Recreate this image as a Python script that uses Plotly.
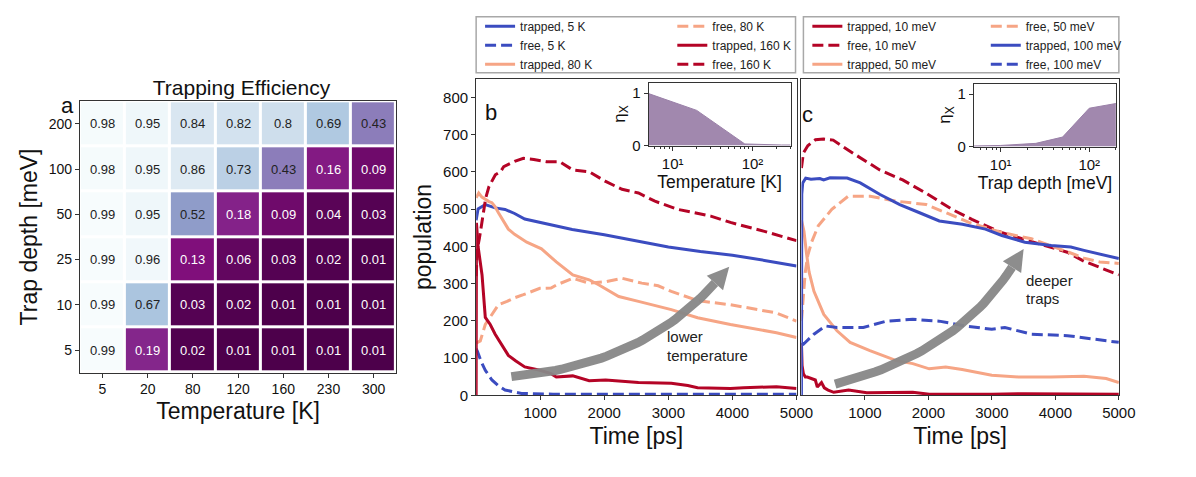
import plotly.graph_objects as go

W, H = 1196, 477

# ---------------- data ----------------
temps = ["5", "20", "80", "120", "160", "230", "300"]
temps_num = [5, 20, 80, 120, 160, 230, 300]
depths = ["5", "10", "25", "50", "100", "200"]
depths_num = [5, 10, 25, 50, 100, 200]
# rows: trap depth 5 -> 200 (bottom to top), columns: temperature
eff_5 = [0.99, 0.19, 0.02, 0.01, 0.01, 0.01, 0.01]
eff_10 = [0.99, 0.67, 0.03, 0.02, 0.01, 0.01, 0.01]
eff_25 = [0.99, 0.96, 0.13, 0.06, 0.03, 0.02, 0.01]
eff_50 = [0.99, 0.95, 0.52, 0.18, 0.09, 0.04, 0.03]
eff_100 = [0.98, 0.95, 0.86, 0.73, 0.43, 0.16, 0.09]
eff_200 = [0.98, 0.95, 0.84, 0.82, 0.80, 0.69, 0.43]
eff = [eff_5, eff_10, eff_25, eff_50, eff_100, eff_200]

# inset data
inset_b_y = eff_10                      # vs temperature at 10 meV
inset_c_y = [0.01, 0.02, 0.06, 0.18, 0.73, 0.82]   # vs depth at 120 K
inset_ticks = [10, 100]
inset_ticktext = ["10¹", "10²"]

# panel b (temperature series)
t_tr5 = [0, 30, 143, 297, 451, 600, 759, 1000, 1169, 1500, 2000, 2500, 3000, 3500, 4000, 4500, 5000]
v_tr5 = [470, 500, 512, 503, 499, 488, 473, 464, 459, 445, 431, 415, 398, 386, 376, 362, 347]
t_fr5 = [0, 20, 80, 143, 246, 350, 451, 600, 708, 900, 1200, 2000, 3000, 4000, 5000]
v_fr5 = [125, 118, 90, 67, 41, 25, 14, 8, 5, 4, 3, 3, 3, 3, 3]
t_tr80 = [0, 40, 90, 143, 200, 246, 300, 348, 420, 503, 600, 790, 1020, 1251, 1508, 1764, 1918, 2226, 2533, 2841, 3046, 3456, 3969, 4687, 5000]
v_tr80 = [530, 543, 532, 526, 520, 517, 505, 490, 468, 446, 432, 411, 393, 358, 323, 310, 296, 265, 252, 239, 230, 208, 190, 168, 155]
t_fr80 = [0, 65, 143, 246, 348, 482, 605, 738, 995, 1169, 1251, 1508, 1764, 2021, 2277, 2585, 2841, 3046, 3456, 3969, 4687, 5000]
v_fr80 = [140, 146, 190, 217, 243, 252, 262, 270, 287, 288, 296, 314, 301, 305, 314, 301, 294, 279, 254, 243, 221, 199]
t_tr160 = [0, 5, 30, 92, 143, 220, 297, 400, 503, 620, 759, 995, 1169, 1251, 1508, 1764, 2021, 2533, 3046, 3303, 3456, 3969, 4174, 4687, 5000]
v_tr160 = [0, 463, 400, 323, 209, 190, 164, 137, 107, 92, 76, 67, 58, 49, 52, 39, 41, 34, 32, 26, 20, 18, 20, 23, 18]
t_fr160 = [0, 20, 50, 100, 150, 200, 300, 380, 431, 600, 738, 900, 1097, 1302, 1508, 1764, 2021, 2277, 2533, 2790, 3149, 3662, 3969, 4500, 5000]
v_fr160 = [320, 394, 420, 480, 530, 560, 592, 600, 614, 628, 636, 633, 627, 627, 605, 600, 574, 553, 543, 521, 499, 481, 464, 440, 415]

# panel c (trap depth series)
t_tr10 = [0, 10, 31, 62, 93, 197, 219, 250, 316, 360, 420, 509, 743, 1029, 1495, 1754, 2013, 2500, 3000, 3500, 4000, 4500, 5000]
v_tr10 = [140, 80, 58, 49, 49, 41, 41, 22, 34, 20, 14, 8, 14, 7, 7, 8, 3, 4, 3, 4, 3, 4, 3]
t_fr10 = [0, 30, 100, 220, 350, 500, 820, 1233, 1595, 1958, 2373, 2685, 3150, 3668, 4187, 4450, 5000]
v_fr10 = [610, 650, 670, 686, 688, 685, 649, 605, 578, 543, 499, 472, 437, 411, 384, 360, 323]
t_tr50 = [0, 40, 80, 120, 197, 352, 560, 767, 1078, 1495, 1754, 2013, 2272, 2531, 2998, 3413, 3931, 4450, 4800, 5000]
v_tr50 = [470, 440, 380, 331, 279, 217, 173, 142, 120, 93, 85, 71, 76, 69, 54, 49, 49, 51, 45, 34]
t_fr50 = [0, 30, 60, 100, 160, 265, 478, 734, 1083, 1497, 1965, 2276, 2639, 3157, 3624, 4194, 4450, 4700, 5000]
v_fr50 = [200, 260, 330, 376, 411, 455, 499, 534, 534, 521, 512, 490, 464, 437, 420, 385, 368, 358, 354]
t_tr100 = [0, 5, 20, 67, 150, 290, 350, 450, 720, 927, 1238, 1549, 1861, 2172, 2535, 2898, 3157, 3520, 3935, 4243, 4450, 5000]
v_tr100 = [0, 540, 570, 583, 580, 582, 578, 584, 583, 570, 539, 512, 490, 468, 459, 446, 429, 411, 402, 398, 389, 367]
t_fr100 = [0, 31, 197, 378, 560, 975, 1338, 1754, 2168, 2583, 2998, 3205, 3620, 4190, 5000]
v_fr100 = [140, 137, 164, 186, 182, 182, 199, 204, 199, 186, 177, 182, 164, 160, 142]

# arrow endpoints (data coords)
arrow_b = ((550, 50), (3950, 345))
arrow_c = ((530, 30), (3500, 393))

# ---------------- styles ----------------
BLUE = "#3b4cc0"
SALMON = "#f6a585"
RED = "#b40426"
PURPLE_FILL = "#a188ae"
ARROW = "rgba(135,135,135,0.95)"
FONT = "Liberation Sans"
LW = 3
DASH = "11px,5px"

# axes boxes in pixels: left, right, top, bottom
HM = (81, 402, 103, 379)
BX = (483, 808, 80, 402)
CX = (813, 1135, 80, 402)
IB = (658, 802, 84, 148)
IC = (988, 1132, 85, 149)

XR = [0, 5000]
YR = [0, 850]


def xdom(box):
    return [box[0] / W, box[1] / W]


def ydom(box):
    return [1 - box[3] / H, 1 - box[2] / H]


fig = go.Figure()

# ---------------- heatmap ----------------
fig.add_trace(go.Heatmap(
    z=eff, x=temps, y=depths, colorscale="BuPu", reversescale=True,
    xgap=3, ygap=3, showscale=False, xaxis="x", yaxis="y", hoverinfo="z"))

annotations = []
for i, d in enumerate(depths):
    for j, tk in enumerate(temps):
        v = eff[i][j]
        annotations.append(dict(
            x=j, y=i, xref="x", yref="y", text=f"{v:g}", showarrow=False,
            font=dict(size=13, color="#222222" if v > 0.3 else "white", family=FONT)))

# ---------------- panel b ----------------
def line(t, v, name, color, dash, xa, ya, leg):
    return go.Scatter(x=t, y=v, mode="lines", name=name, xaxis=xa, yaxis=ya, legend=leg,
                      line=dict(color=color, width=LW, dash="solid" if dash is None else dash))


fig.add_trace(line(t_tr5, v_tr5, "trapped, 5 K", BLUE, None, "x2", "y2", "legend"))
fig.add_trace(line(t_fr5, v_fr5, "free, 5 K", BLUE, DASH, "x2", "y2", "legend"))
fig.add_trace(line(t_tr80, v_tr80, "trapped, 80 K", SALMON, None, "x2", "y2", "legend"))
fig.add_trace(line(t_fr80, v_fr80, "free, 80 K", SALMON, DASH, "x2", "y2", "legend2"))
fig.add_trace(line(t_tr160, v_tr160, "trapped, 160 K", RED, None, "x2", "y2", "legend2"))
fig.add_trace(line(t_fr160, v_fr160, "free, 160 K", RED, DASH, "x2", "y2", "legend2"))

# ---------------- panel c ----------------
fig.add_trace(line(t_tr10, v_tr10, "trapped, 10 meV", RED, None, "x3", "y3", "legend3"))
fig.add_trace(line(t_fr10, v_fr10, "free, 10 meV", RED, DASH, "x3", "y3", "legend3"))
fig.add_trace(line(t_tr50, v_tr50, "trapped, 50 meV", SALMON, None, "x3", "y3", "legend3"))
fig.add_trace(line(t_fr50, v_fr50, "free, 50 meV", SALMON, DASH, "x3", "y3", "legend4"))
fig.add_trace(line(t_tr100, v_tr100, "trapped, 100 meV", BLUE, None, "x3", "y3", "legend4"))
fig.add_trace(line(t_fr100, v_fr100, "free, 100 meV", BLUE, DASH, "x3", "y3", "legend4"))


# ---------------- curved arrows ----------------
def to_px(t, v, box):
    l, r, top, bot = box
    return (l + (t - XR[0]) / (XR[1] - XR[0]) * (r - l),
            bot - (v - YR[0]) / (YR[1] - YR[0]) * (bot - top))


def from_px(x, y, box):
    l, r, top, bot = box
    return (XR[0] + (x - l) / (r - l) * (XR[1] - XR[0]),
            YR[0] + (bot - y) / (bot - top) * (YR[1] - YR[0]))


def curved_arrow(ends, box, xa, ya, rad=0.2, head_len=22, head_w=11, n=40):
    (t0, v0), (t1, v1) = ends
    x0, y0 = to_px(t0, v0, box)
    x1, y1 = to_px(t1, v1, box)
    dx, dy = x1 - x0, y1 - y0
    cx, cy = (x0 + x1) / 2 - rad * dy, (y0 + y1) / 2 + rad * dx
    ux, uy = x1 - cx, y1 - cy
    norm = (ux ** 2 + uy ** 2) ** 0.5
    ux, uy = ux / norm, uy / norm
    bx, by = x1 - ux * head_len, y1 - uy * head_len
    xs, ys = [], []
    for k in range(n + 1):
        s = k / n
        px = (1 - s) ** 2 * x0 + 2 * (1 - s) * s * cx + s ** 2 * bx
        py = (1 - s) ** 2 * y0 + 2 * (1 - s) * s * cy + s ** 2 * by
        tt, vv = from_px(px, py, box)
        xs.append(tt)
        ys.append(vv)
    nx, ny = -uy, ux
    hx = [x1, bx + nx * head_w, bx - nx * head_w, x1]
    hy = [y1, by + ny * head_w, by - ny * head_w, y1]
    hd = [from_px(a, b, box) for a, b in zip(hx, hy)]
    body = go.Scatter(x=xs, y=ys, mode="lines", xaxis=xa, yaxis=ya, showlegend=False,
                      hoverinfo="skip", line=dict(color=ARROW, width=9))
    head = go.Scatter(x=[p[0] for p in hd], y=[p[1] for p in hd], mode="lines", fill="toself",
                      fillcolor=ARROW, xaxis=xa, yaxis=ya, showlegend=False, hoverinfo="skip",
                      line=dict(width=0, color=ARROW))
    return [body, head]


for tr in curved_arrow(arrow_b, BX, "x2", "y2"):
    fig.add_trace(tr)
for tr in curved_arrow(arrow_c, CX, "x3", "y3"):
    fig.add_trace(tr)

# ---------------- insets ----------------
fig.add_trace(go.Scatter(x=temps_num, y=inset_b_y, mode="lines", fill="tozeroy",
                         fillcolor=PURPLE_FILL, line=dict(color="#9a80a8", width=1),
                         xaxis="x4", yaxis="y4", showlegend=False))
fig.add_trace(go.Scatter(x=depths_num, y=inset_c_y, mode="lines", fill="tozeroy",
                         fillcolor=PURPLE_FILL, line=dict(color="#9a80a8", width=1),
                         xaxis="x5", yaxis="y5", showlegend=False))

TXT = dict(size=15, color="#222", family=FONT)
annotations += [
    dict(x=2950, y=159, xref="x2", yref="y2", text="lower", showarrow=False, xanchor="left", font=TXT),
    dict(x=2950, y=108, xref="x2", yref="y2", text="temperature", showarrow=False, xanchor="left", font=TXT),
    dict(x=3500, y=307, xref="x3", yref="y3", text="deeper", showarrow=False, xanchor="left", font=TXT),
    dict(x=3500, y=259, xref="x3", yref="y3", text="traps", showarrow=False, xanchor="left", font=TXT),
    dict(x=60 / W, y=1 - 93 / H, xref="paper", yref="paper", text="a", showarrow=False,
         font=dict(size=22, color="#111", family=FONT)),
    dict(x=498 / W, y=1 - 100 / H, xref="paper", yref="paper", text="b", showarrow=False,
         font=dict(size=22, color="#111", family=FONT)),
    dict(x=827 / W, y=1 - 102 / H, xref="paper", yref="paper", text="c", showarrow=False,
         font=dict(size=22, color="#111", family=FONT)),
]

AX = dict(showline=True, mirror=True, linecolor="#333", linewidth=1, ticks="outside",
          ticklen=4, tickcolor="#333", showgrid=False, zeroline=False)

minor_b = [6, 7, 8, 9, 20, 30, 40, 50, 60, 70, 80, 90, 200, 300]
minor_c = [6, 7, 8, 9, 20, 30, 40, 50, 60, 70, 80, 90, 200]

fig.update_layout(
    width=W, height=H, margin=dict(l=0, r=0, t=0, b=0),
    plot_bgcolor="white", paper_bgcolor="white", hovermode=False,
    font=dict(family=FONT, color="#111"),
    title=dict(text="Trapping Efficiency", x=(HM[0] + HM[1]) / 2 / W, xanchor="center",
               y=1 - 88 / H, yanchor="middle", font=dict(size=21, family=FONT, color="#111")),
    xaxis=dict(AX, domain=xdom(HM), type="category", range=[-0.5, len(temps) - 0.5],
               tickfont=dict(size=14), anchor="y",
               title=dict(text="Temperature [K]", font=dict(size=23), standoff=6)),
    yaxis=dict(AX, domain=ydom(HM), type="category", range=[-0.5, len(depths) - 0.5],
               tickfont=dict(size=14), anchor="x",
               title=dict(text="Trap depth [meV]", font=dict(size=23), standoff=4)),
    xaxis2=dict(AX, domain=xdom(BX), range=XR, anchor="y2", tickvals=[1000, 2000, 3000, 4000, 5000],
                tickfont=dict(size=15), title=dict(text="Time [ps]", font=dict(size=23), standoff=7)),
    yaxis2=dict(AX, domain=ydom(BX), range=YR, anchor="x2",
                tickvals=[0, 100, 200, 300, 400, 500, 600, 700, 800], tickfont=dict(size=15),
                title=dict(text="population", font=dict(size=23), standoff=5)),
    xaxis3=dict(AX, domain=xdom(CX), range=XR, anchor="y3", tickvals=[1000, 2000, 3000, 4000, 5000],
                tickfont=dict(size=15), title=dict(text="Time [ps]", font=dict(size=23), standoff=7)),
    yaxis3=dict(AX, domain=ydom(CX), range=YR, anchor="x3", showticklabels=False, ticks=""),
    xaxis4=dict(AX, domain=xdom(IB), type="log", range=[0.699, 2.477], anchor="y4",
                tickvals=inset_ticks, ticktext=inset_ticktext,
                tickfont=dict(size=15), ticklen=4,
                minor=dict(ticks="outside", ticklen=2, tickcolor="#333", tickvals=minor_b),
                title=dict(text="Temperature [K]", font=dict(size=17.5), standoff=4)),
    yaxis4=dict(AX, domain=ydom(IB), range=[0, 1.2], anchor="x4", tickvals=[0, 1],
                tickfont=dict(size=15),
                title=dict(text="η<sub>X</sub>", font=dict(size=17), standoff=2)),
    xaxis5=dict(AX, domain=xdom(IC), type="log", range=[0.699, 2.301], anchor="y5",
                tickvals=inset_ticks, ticktext=inset_ticktext,
                tickfont=dict(size=15), ticklen=4,
                minor=dict(ticks="outside", ticklen=2, tickcolor="#333", tickvals=minor_c),
                title=dict(text="Trap depth [meV]", font=dict(size=17.5), standoff=4)),
    yaxis5=dict(AX, domain=ydom(IC), range=[0, 1.2], anchor="x5", tickvals=[0, 1],
                tickfont=dict(size=15),
                title=dict(text="η<sub>X</sub>", font=dict(size=17), standoff=2)),
    annotations=annotations,
)

LEG = dict(orientation="v", xanchor="left", yanchor="middle", bgcolor="rgba(0,0,0,0)",
           borderwidth=0, font=dict(size=12, family=FONT, color="#222"), tracegroupgap=0)
ymid = 1 - 46 / H
fig.update_layout(
    legend=dict(LEG, x=487 / W, y=ymid),
    legend2=dict(LEG, x=682 / W, y=ymid),
    legend3=dict(LEG, x=819 / W, y=ymid),
    legend4=dict(LEG, x=1000 / W, y=ymid),
)

# legend frames
for (l, r) in [(483, 807), (815, 1135)]:
    fig.add_shape(type="rect", xref="paper", yref="paper", x0=l / W, x1=r / W,
                  y0=1 - 74 / H, y1=1 - 17 / H, line=dict(color="#a8a8a8", width=1.5),
                  fillcolor="rgba(0,0,0,0)")

fig.write_html("out.html", config={"displayModeBar": False, "staticPlot": True},
               post_script="document.body.style.margin='0';document.body.style.overflow='hidden';")
